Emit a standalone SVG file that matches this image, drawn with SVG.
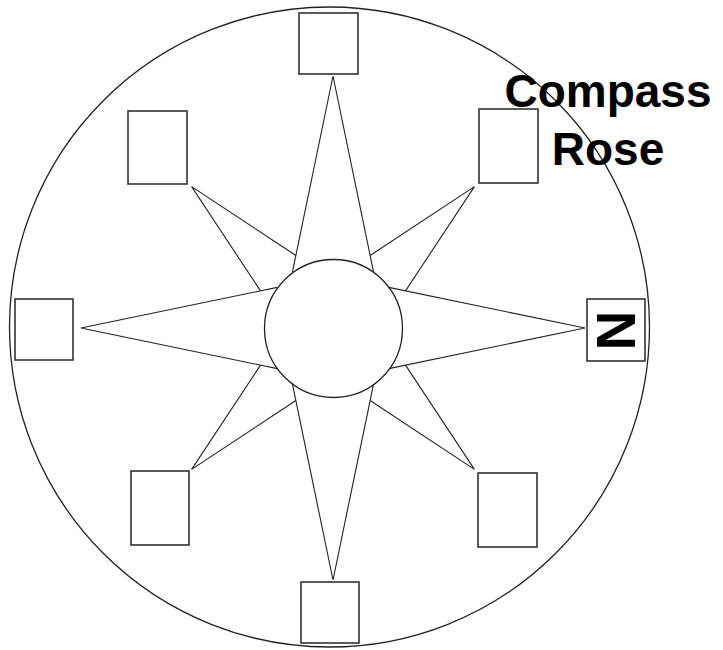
<svg xmlns="http://www.w3.org/2000/svg" width="723" height="650" viewBox="0 0 723 650">
<style>
.box{fill:#fff;stroke:#333;stroke-width:1.6}
.ray{fill:none;stroke:#222;stroke-width:1.1;stroke-linejoin:miter}
.ttl{font-family:"Liberation Sans",Arial,sans-serif;font-weight:bold;font-size:46px;fill:#000;text-anchor:middle}
</style>
<rect width="723" height="650" fill="#fff"/>
<circle id="outer" cx="329.5" cy="327" r="320" fill="none" stroke="#222" stroke-width="1.3"/>
<g id="connectors">
<polyline class="ray" points="292.4,272.2 333,76 373.6,272.2"/>
<polyline class="ray" points="388.8,287.4 585,328 388.8,368.6"/>
<polyline class="ray" points="292.4,383.8 333,580 373.6,383.8"/>
<polyline class="ray" points="277.2,287.4 81,328 277.2,368.6"/>
<polyline class="ray" points="295.9,255.5 191.6,186.6 260.5,290.9"/>
<polyline class="ray" points="370.1,255.5 474.4,186.6 405.5,290.9"/>
<polyline class="ray" points="405.5,365.1 474.4,469.4 370.1,400.5"/>
<polyline class="ray" points="295.9,400.5 191.6,469.4 260.5,365.1"/>
</g>
<g id="center"><circle cx="333.5" cy="328.5" r="69" fill="#fff" stroke="#222" stroke-width="1.3"/></g>
<g id="box-top"><rect class="box" x="299" y="13" width="59" height="61"/></g>
<g id="box-bottom"><rect class="box" x="301" y="582" width="58" height="61"/></g>
<g id="box-left"><rect class="box" x="15" y="299" width="58" height="61"/></g>
<g id="box-right"><rect class="box" x="587" y="299" width="58" height="62"/>
<text transform="translate(597,330.5) rotate(90)" x="0" y="0" font-family="Liberation Sans, Arial, sans-serif" font-weight="bold" font-size="55" text-anchor="middle">N</text></g>
<g id="box-nw"><rect class="box" x="128" y="111" width="59" height="73"/></g>
<g id="box-ne"><rect class="box" x="479" y="109" width="59" height="74"/></g>
<g id="box-sw"><rect class="box" x="131" y="471" width="58" height="74"/></g>
<g id="box-se"><rect class="box" x="478" y="473" width="59" height="74"/></g>
<g id="title">
<text class="ttl" x="608" y="107">Compass</text>
<text class="ttl" x="608" y="165">Rose</text>
</g>
</svg>
